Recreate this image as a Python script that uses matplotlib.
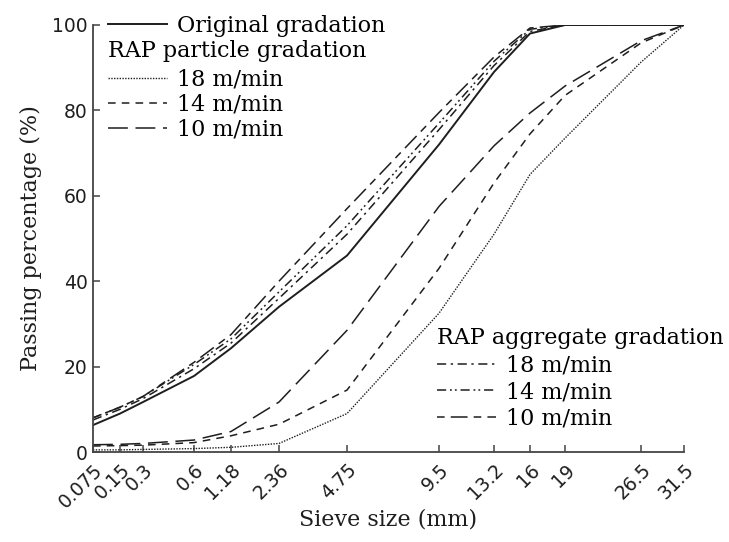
import numpy as np
import matplotlib
matplotlib.use('Agg')
import matplotlib.pyplot as plt

# ---- data ----
sieve = [0.075, 0.15, 0.3, 0.6, 1.18, 2.36, 4.75, 9.5, 13.2, 16, 19, 26.5, 31.5]
sieve_labels = ['0.075', '0.15', '0.3', '0.6', '1.18', '2.36', '4.75', '9.5',
                '13.2', '16', '19', '26.5', '31.5']

original = [6.3, 9.0, 11.7, 17.8, 24.3, 34.0, 46.0, 72.0, 89.0, 98.0, 100, 100, 100]

part_18 = [0.5, 0.5, 0.6, 0.8, 1.1, 2.0, 9.0, 32.5, 51.0, 65.0, 73.5, 91.3, 100]
part_14 = [1.4, 1.5, 1.6, 2.2, 3.8, 6.5, 14.5, 43.0, 63.0, 74.5, 83.5, 95.8, 100]
part_10 = [1.7, 1.8, 2.0, 2.8, 4.8, 11.7, 28.5, 57.5, 71.7, 79.4, 85.7, 96.3, 100]

agg_18 = [7.5, 10.0, 12.5, 19.5, 25.5, 36.0, 51.0, 75.5, 90.5, 98.5, 100, 100, 100]
agg_14 = [8.0, 10.5, 13.0, 20.5, 26.5, 37.5, 53.0, 77.0, 91.5, 99.0, 100, 100, 100]
agg_10 = [8.0, 10.5, 13.0, 21.0, 27.5, 40.0, 57.0, 79.5, 92.5, 99.3, 100, 100, 100]

# where each sieve sits along the x axis (fraction of axis width)
tick_frac = np.array([0, 27, 50, 101, 138, 186, 254, 346, 401, 437, 472, 548, 591]) / 591.0
log_sieve = np.log(sieve)


def fwd(x):
    x = np.clip(np.asarray(x, dtype=float), 1e-6, None)
    return np.interp(np.log(x), log_sieve, tick_frac)


def inv(p):
    return np.exp(np.interp(p, tick_frac, log_sieve))


ink = '#1e1e1e'
serif = 'DejaVu Serif'
fs = 16

fig = plt.figure(figsize=(7.29, 5.42), dpi=100)
ax = fig.add_axes([93 / 729, 1 - 452 / 542, 591 / 729, 427 / 542])
ax.set_xscale('function', functions=(fwd, inv))

lw = 1.1
l_orig, = ax.plot(sieve, original, color=ink, lw=1.4, ls='-')
l_p18, = ax.plot(sieve, part_18, color=ink, lw=1.0, ls=(0, (1, 1)))
l_p14, = ax.plot(sieve, part_14, color=ink, lw=lw, ls=(0, (5, 4)))
l_p10, = ax.plot(sieve, part_10, color=ink, lw=lw, ls=(0, (13, 5)))
l_a18, = ax.plot(sieve, agg_18, color=ink, lw=lw, ls=(0, (6, 3, 1.5, 3)))
l_a14, = ax.plot(sieve, agg_14, color=ink, lw=lw, ls=(0, (6, 2.5, 1.2, 2, 1.2, 2.5)))
l_a10, = ax.plot(sieve, agg_10, color=ink, lw=lw, ls=(0, (5, 4, 11, 4)))

ax.set_xlim(sieve[0], sieve[-1])
ax.set_ylim(0, 100)
ax.set_xticks(sieve)
ax.set_xticklabels(sieve_labels, rotation=45, ha='right', rotation_mode='anchor')
ax.xaxis.set_minor_locator(matplotlib.ticker.NullLocator())
ax.set_yticks([0, 20, 40, 60, 80, 100])
ax.tick_params(direction='in', length=5, width=1.1, color='#444444',
               labelsize=13.5, labelcolor=ink, pad=4)
ax.tick_params(axis='x', pad=6)
for s in ['top', 'right']:
    ax.spines[s].set_visible(False)
for s in ['left', 'bottom']:
    ax.spines[s].set_color('#444444')
    ax.spines[s].set_linewidth(1.3)

ax.set_xlabel('Sieve size (mm)', fontsize=fs, family=serif, color=ink, labelpad=-2)
ax.set_ylabel('Passing percentage (%)', fontsize=fs, family=serif, color=ink, labelpad=7)

leg_kw = dict(frameon=False, borderpad=0, borderaxespad=0, handlelength=2.65,
              handletextpad=0.45, prop={'family': serif, 'size': fs},
              bbox_transform=fig.transFigure)
title_font = {'family': serif, 'size': fs}

leg1 = ax.legend([l_orig], ['Original gradation'], loc='upper left',
                 bbox_to_anchor=(108 / 729, 1 - 15 / 542), labelspacing=0.12, **leg_kw)
ax.add_artist(leg1)

leg2 = ax.legend([l_p18, l_p14, l_p10], ['18 m/min', '14 m/min', '10 m/min'],
                 title='RAP particle gradation', title_fontproperties=title_font,
                 loc='upper left', bbox_to_anchor=(108 / 729, 1 - 40 / 542),
                 labelspacing=0.12, **leg_kw)
leg2._legend_box.align = 'left'
leg2._legend_box.sep = 5
ax.add_artist(leg2)

leg3 = ax.legend([l_a18, l_a14, l_a10], ['18 m/min', '14 m/min', '10 m/min'],
                 title='RAP aggregate gradation', title_fontproperties=title_font,
                 loc='upper left', bbox_to_anchor=(437 / 729, 1 - 327 / 542),
                 labelspacing=0.2, **leg_kw)
leg3._legend_box.align = 'left'
leg3._legend_box.sep = 4

plt.savefig('out.png', dpi=100)
